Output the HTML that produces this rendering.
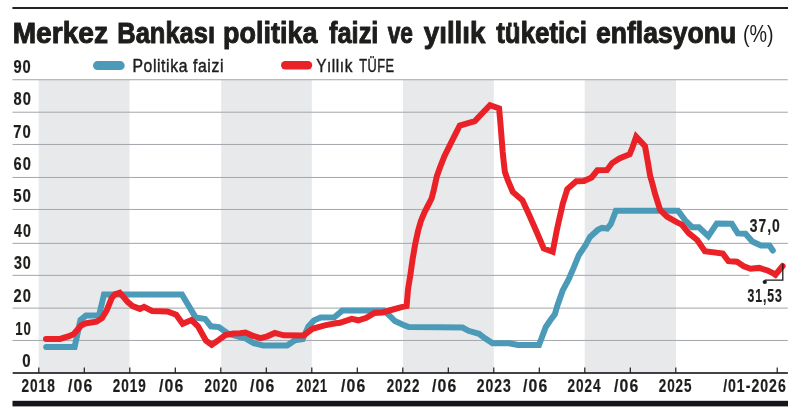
<!DOCTYPE html>
<html lang="tr">
<head>
<meta charset="utf-8">
<title>Merkez Bankası politika faizi ve yıllık tüketici enflasyonu</title>
<style>
html,body{margin:0;padding:0;background:#fff;}
body{width:800px;height:410px;overflow:hidden;}
svg{display:block;will-change:transform;}
text{font-family:"Liberation Sans",sans-serif;fill:#1d1d1b;}
.t{font-weight:bold;font-size:30px;stroke:#1d1d1b;stroke-width:1px;stroke-linejoin:round;}
.pc{font-size:24.3px;}
.ax{font-size:18.2px;font-weight:bold;letter-spacing:1.3px;stroke:#1d1d1b;stroke-width:0.2px;}
.lg{font-size:18.3px;letter-spacing:0.7px;stroke:#1d1d1b;stroke-width:0.45px;}
</style>
</head>
<body>
<svg width="800" height="410" viewBox="0 0 800 410">
<rect x="0" y="0" width="800" height="410" fill="#ffffff"/>
<rect x="12.4" y="7.1" width="775.6" height="1.8" fill="#0c0c0c"/>
<rect x="38.7" y="79.8" width="90.8" height="293.2" fill="#e8e9eb"/>
<rect x="221.2" y="79.8" width="90.6" height="293.2" fill="#e8e9eb"/>
<rect x="403" y="79.8" width="90.8" height="293.2" fill="#e8e9eb"/>
<rect x="584.7" y="79.8" width="91.3" height="293.2" fill="#e8e9eb"/>
<rect x="12.5" y="79.20" width="775.3" height="1.05" fill="#a6a9ad"/>
<rect x="12.5" y="111.70" width="775.3" height="1.05" fill="#a6a9ad"/>
<rect x="12.5" y="143.95" width="775.3" height="1.05" fill="#a6a9ad"/>
<rect x="12.5" y="176.95" width="775.3" height="1.05" fill="#a6a9ad"/>
<rect x="12.5" y="208.95" width="775.3" height="1.05" fill="#a6a9ad"/>
<rect x="12.5" y="242.85" width="775.3" height="1.05" fill="#a6a9ad"/>
<rect x="12.5" y="274.85" width="737" height="1.05" fill="#a6a9ad"/>
<rect x="12.5" y="307.60" width="775.3" height="1.05" fill="#a6a9ad"/>
<rect x="12.5" y="339.95" width="775.3" height="1.05" fill="#a6a9ad"/>
<path d="M46.2,346.9 L74.6,346.9 L80.5,320 L86,315.6 L99,315.6 L104,294.4 L181.9,294.4 L195.6,317.4 L205.2,319 L210.9,326.3 L218.9,327.1 L227.8,333.5 L240,337 L245.5,338.3 L253.7,343.1 L263.2,345.5 L287.1,345.5 L294.6,340.4 L302.8,339 L308.3,326.7 L313.8,320.6 L320.6,317.6 L334.3,317.2 L340,312.5 L342.2,310.5 L383.9,310.5 L390.5,316.6 L394.9,321 L403,324.7 L408.8,327.1 L440,327.3 L462.5,327.5 L468.5,330.8 L479,333.8 L485,338.3 L492.5,343.2 L509,343.2 L518,345 L539,345 L545.8,327 L550.3,320.3 L554.8,314.3 L557.6,305 L562.7,290.4 L568.6,279.4 L573.7,267.7 L578.8,255.2 L585.2,245.8 L590,236.9 L597.8,229.9 L602.1,227.9 L607.2,228.5 L610.8,224 L615.9,210.7 L678,210.7 L685.2,220.4 L692.1,227.2 L698.9,227.2 L708.3,236.1 L716.8,223.6 L731.8,223.8 L737.8,233.4 L745.5,233.8 L752.3,241.5 L760.9,245.4 L769.4,245.4 L772.8,250.5" fill="none" stroke="#4b9ab8" stroke-width="6" stroke-linejoin="miter" stroke-miterlimit="3" stroke-linecap="round"/>
<path d="M46,338.9 L60.1,338.9 L69,336.2 L73.8,334 L81.1,325.5 L85.1,323.5 L96.4,321.7 L102,318.2 L106.8,310.2 L111.7,298.1 L114.9,294.4 L119.7,292.8 L123.7,297.3 L127.8,302.1 L132.6,306.1 L140,308.9 L144,306.9 L152.1,311 L167.4,311.4 L176.2,314.7 L182.7,323.8 L191.5,320.1 L198,326.3 L206,340.8 L211.7,344.8 L218.9,339.9 L225.3,335.1 L233.4,333.5 L240,333.2 L245.5,332.6 L252.3,335.6 L260.5,338.1 L267.3,336.3 L274.8,332.9 L283.7,335.3 L303.5,335.6 L312.4,328.8 L324.7,325.4 L335.6,323.3 L340,322.8 L351.7,318.8 L358.3,320.3 L366.4,317.8 L374.4,312.9 L382.5,312.5 L391.2,310 L401.5,307.1 L406.6,306.1 L408.1,288.8 L410.4,274.7 L412.6,259.3 L415.2,244 L418.1,230.8 L420.9,220.9 L424.6,212 L428,205.5 L431.7,198.3 L433.9,189.5 L436.8,176.4 L440.5,166.1 L444.5,156 L451.5,141.9 L455.9,133.1 L459.8,125.5 L474.9,121.1 L481.5,114 L490,105.2 L499.1,108.5 L500.5,124.3 L502.7,152 L503.7,161.7 L504.9,172 L508.2,181.2 L512.8,192 L522.4,200.3 L529.1,214.8 L537,232.8 L543.7,248.5 L552.7,251.8 L557.2,228.3 L562.8,203.6 L567.3,189.1 L576.2,181.2 L584,181 L591.6,177.5 L597.4,170.3 L607,170.1 L612.1,163.1 L619.4,158.4 L629.7,154.3 L632.6,147 L636.2,136.7 L645,146.2 L648,163.1 L650.2,176.2 L652.2,183 L655,193.7 L660.1,209.9 L666.9,216.7 L677.1,222.4 L681.8,224.6 L688.7,233.2 L697.2,240 L704.9,251.1 L722.8,253.6 L728.5,261.2 L737,261.8 L743.8,266.2 L750.6,268.8 L759.1,267.9 L767.7,270.5 L772.8,273 L775.4,274.8 L779.6,269.6 L782.6,266" fill="none" stroke="#ea2227" stroke-width="6" stroke-linejoin="miter" stroke-miterlimit="3" stroke-linecap="round"/>
<rect x="12.6" y="372.2" width="775.3" height="1.6" fill="#141619"/>
<rect x="38.2" y="367.5" width="1.2" height="5.5" fill="#1d1d1b"/>
<rect x="83.7" y="367.5" width="1.2" height="5.5" fill="#1d1d1b"/>
<rect x="129.2" y="367.5" width="1.2" height="5.5" fill="#1d1d1b"/>
<rect x="174.7" y="367.5" width="1.2" height="5.5" fill="#1d1d1b"/>
<rect x="220.2" y="367.5" width="1.2" height="5.5" fill="#1d1d1b"/>
<rect x="265.7" y="367.5" width="1.2" height="5.5" fill="#1d1d1b"/>
<rect x="311.2" y="367.5" width="1.2" height="5.5" fill="#1d1d1b"/>
<rect x="356.7" y="367.5" width="1.2" height="5.5" fill="#1d1d1b"/>
<rect x="402.2" y="367.5" width="1.2" height="5.5" fill="#1d1d1b"/>
<rect x="447.7" y="367.5" width="1.2" height="5.5" fill="#1d1d1b"/>
<rect x="493.2" y="367.5" width="1.2" height="5.5" fill="#1d1d1b"/>
<rect x="538.7" y="367.5" width="1.2" height="5.5" fill="#1d1d1b"/>
<rect x="584.2" y="367.5" width="1.2" height="5.5" fill="#1d1d1b"/>
<rect x="629.7" y="367.5" width="1.2" height="5.5" fill="#1d1d1b"/>
<rect x="675.2" y="367.5" width="1.2" height="5.5" fill="#1d1d1b"/>
<rect x="776.6" y="367.5" width="1.2" height="5.5" fill="#1d1d1b"/>
<rect x="12.5" y="400.8" width="775.5" height="5.6" fill="#141619"/>
<rect x="93" y="61.1" width="31.7" height="8.9" rx="4.45" fill="#4b9ab8"/>
<rect x="281" y="61" width="31.2" height="8.4" rx="4.2" fill="#ea2227"/>
<text class="t" x="12.68" y="42.6" textLength="95.29" lengthAdjust="spacingAndGlyphs">Merkez</text>
<text class="t" x="117.27" y="42.6" textLength="97.77" lengthAdjust="spacingAndGlyphs">Bankası</text>
<text class="t" x="223.12" y="42.6" textLength="94.29" lengthAdjust="spacingAndGlyphs">politika</text>
<text class="t" x="329.05" y="42.6" textLength="49.35" lengthAdjust="spacingAndGlyphs">faizi</text>
<text class="t" x="387.72" y="42.6" textLength="25.18" lengthAdjust="spacingAndGlyphs">ve</text>
<text class="t" x="423.83" y="42.6" textLength="61.50" lengthAdjust="spacingAndGlyphs">yıllık</text>
<text class="t" x="496.20" y="42.6" textLength="90.65" lengthAdjust="spacingAndGlyphs">tüketici</text>
<text class="t" x="596.01" y="42.6" textLength="140.14" lengthAdjust="spacingAndGlyphs">enflasyonu</text>
<text class="pc" x="743.00" y="42.3" textLength="30.68" lengthAdjust="spacingAndGlyphs">(%)</text>
<text class="ax" x="13.40" y="72.75" textLength="18.43" lengthAdjust="spacingAndGlyphs">90</text>
<text class="ax" x="13.56" y="105.1" textLength="18.35" lengthAdjust="spacingAndGlyphs">80</text>
<text class="ax" x="13.28" y="138" textLength="18.58" lengthAdjust="spacingAndGlyphs">70</text>
<text class="ax" x="13.51" y="170" textLength="18.38" lengthAdjust="spacingAndGlyphs">60</text>
<text class="ax" x="13.20" y="202.3" textLength="18.84" lengthAdjust="spacingAndGlyphs">50</text>
<text class="ax" x="14.06" y="236.75" textLength="17.79" lengthAdjust="spacingAndGlyphs">40</text>
<text class="ax" x="13.89" y="269.25" textLength="17.97" lengthAdjust="spacingAndGlyphs">30</text>
<text class="ax" x="13.58" y="302.4" textLength="18.35" lengthAdjust="spacingAndGlyphs">20</text>
<text class="ax" x="15.18" y="334.75" textLength="16.46" lengthAdjust="spacingAndGlyphs">10</text>
<text class="ax" x="22.36" y="367.2" textLength="9.44" lengthAdjust="spacingAndGlyphs">0</text>
<text class="ax" x="21.47" y="391.8" textLength="34.31" lengthAdjust="spacingAndGlyphs">2018</text>
<text class="ax" x="112.81" y="391.8" textLength="33.94" lengthAdjust="spacingAndGlyphs">2019</text>
<text class="ax" x="204.40" y="391.8" textLength="33.66" lengthAdjust="spacingAndGlyphs">2020</text>
<text class="ax" x="296.28" y="391.8" textLength="31.76" lengthAdjust="spacingAndGlyphs">2021</text>
<text class="ax" x="386.72" y="391.8" textLength="33.63" lengthAdjust="spacingAndGlyphs">2022</text>
<text class="ax" x="476.65" y="391.8" textLength="35.09" lengthAdjust="spacingAndGlyphs">2023</text>
<text class="ax" x="567.50" y="391.8" textLength="34.06" lengthAdjust="spacingAndGlyphs">2024</text>
<text class="ax" x="658.72" y="391.8" textLength="33.81" lengthAdjust="spacingAndGlyphs">2025</text>
<text class="ax" x="68.09" y="391.8" textLength="25.33" lengthAdjust="spacingAndGlyphs">/06</text>
<text class="ax" x="159.09" y="391.8" textLength="25.33" lengthAdjust="spacingAndGlyphs">/06</text>
<text class="ax" x="250.09" y="391.8" textLength="25.33" lengthAdjust="spacingAndGlyphs">/06</text>
<text class="ax" x="341.09" y="391.8" textLength="25.33" lengthAdjust="spacingAndGlyphs">/06</text>
<text class="ax" x="432.09" y="391.8" textLength="25.33" lengthAdjust="spacingAndGlyphs">/06</text>
<text class="ax" x="523.09" y="391.8" textLength="25.33" lengthAdjust="spacingAndGlyphs">/06</text>
<text class="ax" x="614.09" y="391.8" textLength="25.33" lengthAdjust="spacingAndGlyphs">/06</text>
<text class="ax" x="723.13" y="391.8" textLength="63.60" lengthAdjust="spacingAndGlyphs">/01-2026</text>
<text class="lg" x="132.44" y="72.3" textLength="91.57" lengthAdjust="spacingAndGlyphs">Politika faizi</text>
<text class="lg" x="316.15" y="72.3" textLength="36.83" lengthAdjust="spacingAndGlyphs">Yıllık</text>
<text class="lg" x="359.15" y="72.3" textLength="35.34" lengthAdjust="spacingAndGlyphs">TÜFE</text>
<text class="ax" x="749.80" y="231.6" textLength="30.98" lengthAdjust="spacingAndGlyphs">37,0</text>
<text class="ax" x="747.57" y="301.8" textLength="35.00" lengthAdjust="spacingAndGlyphs">31,53</text>
<circle cx="764.8" cy="282" r="2.1" fill="#1d1d1b"/>
<path d="M764.8,280.2 H782.8 V263.7" fill="none" stroke="#1d1d1b" stroke-width="1.3"/>
</svg>
</body>
</html>
